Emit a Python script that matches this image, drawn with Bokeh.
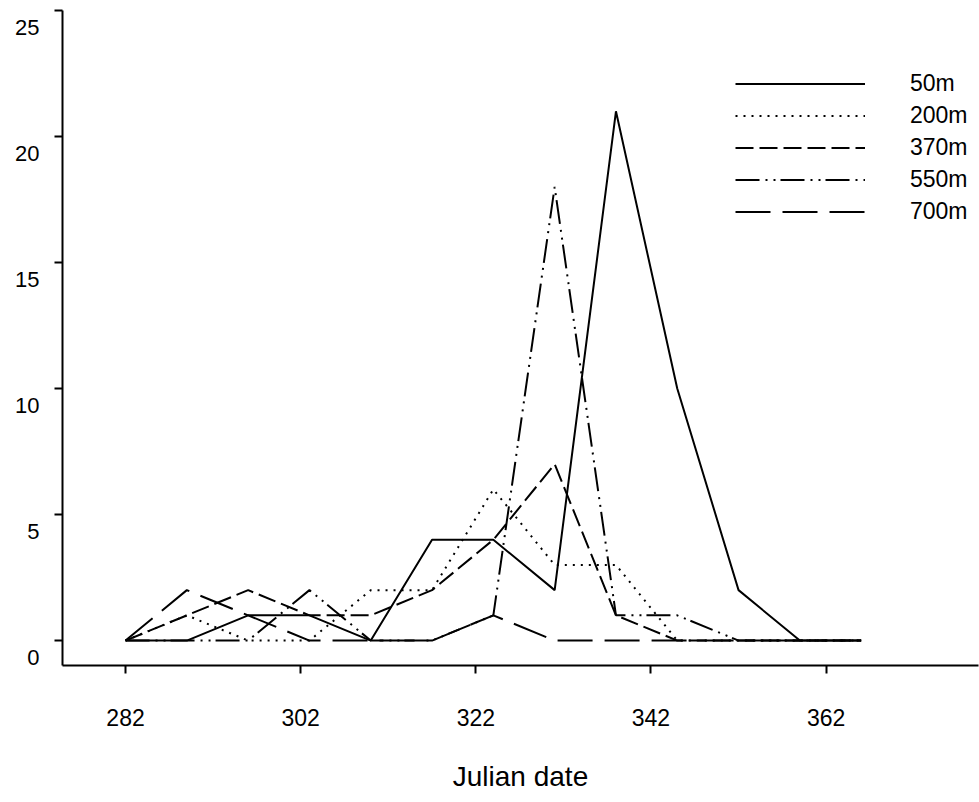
from bokeh.plotting import figure
from bokeh.models import Range1d, FixedTicker, Legend, LegendItem, LinearAxis
from bokeh.embed import file_html
from bokeh.resources import INLINE

# ---- data ----
dates = [282, 289, 296, 303, 310, 317, 324, 331, 338, 345, 352, 359, 366]
d50 = [0, 0, 1, 1, 0, 4, 4, 2, 21, 10, 2, 0, 0]
d200 = [0, 1, 0, 0, 2, 2, 6, 3, 3, 0, 0, 0, 0]
d370 = [0, 1, 2, 1, 1, 2, 4, 7, 1, 0, 0, 0, 0]
d550 = [0, 0, 0, 2, 0, 0, 1, 18, 1, 1, 0, 0, 0]
d700 = [0, 2, 1, 0, 0, 0, 1, 0, 0, 0, 0, 0, 0]
series_names = ["50m", "200m", "370m", "550m", "700m"]
x_ticks = [282, 302, 322, 342, 362]
y_ticks = [0, 5, 10, 15, 20, 25]
x_title = "Julian date"

FONT = "Liberation Sans"
Y0, Y1 = -0.99, 25
LABEL_SHIFT = 0.675  # y tick labels sit a little below their ticks, as in the reference

p = figure(width=979, height=802, output_backend="svg", toolbar_location=None,
           x_range=Range1d(274.8, 379.4), y_range=Range1d(Y0, Y1),
           min_border_left=62, min_border_right=1, min_border_top=10,
           min_border_bottom=137)
p.outline_line_color = None
p.xgrid.visible = False
p.ygrid.visible = False
p.background_fill_color = "white"
p.border_fill_color = "white"

styles = [
    dict(line_dash="solid"),
    dict(line_dash="2 6"),
    dict(line_dash="18 6"),
    dict(line_dash="24 6 2 6 2 5"),
    dict(line_dash="35 12"),
]
series = [d50, d200, d370, d550, d700]
renderers = []
for vals, st in zip(series, styles):
    r = p.line(dates, vals, line_color="black", line_width=2, **st)
    renderers.append(r)

# x axis
xa = p.xaxis[0]
xa.ticker = FixedTicker(ticks=x_ticks)
xa.minor_tick_line_color = None
xa.major_tick_in = 0
xa.major_tick_out = 8
xa.major_tick_line_width = 2
xa.axis_line_width = 2
xa.axis_line_color = "black"
xa.major_tick_line_color = "black"
xa.major_label_text_font = FONT
xa.major_label_text_font_size = "23px"
xa.major_label_text_color = "black"
xa.major_label_standoff = 35
xa.axis_label = x_title
xa.axis_label_text_font = FONT
xa.axis_label_text_font_size = "28px"
xa.axis_label_text_font_style = "normal"
xa.axis_label_text_color = "black"
xa.axis_label_standoff = 32

# main y axis: line and tick marks only (tick marks drawn as "minor" ticks, so no labels)
ya = p.yaxis[0]
ya.ticker = FixedTicker(ticks=[], minor_ticks=y_ticks)
ya.axis_line_width = 2
ya.axis_line_color = "black"
ya.minor_tick_in = 0
ya.minor_tick_out = 8
ya.minor_tick_line_width = 2
ya.minor_tick_line_color = "black"
ya.major_label_standoff = 0

# label-only y axis, shifted slightly downward
p.extra_y_ranges = {"lbl": Range1d(Y0 + LABEL_SHIFT, Y1 + LABEL_SHIFT)}
lbl_axis = LinearAxis(y_range_name="lbl", ticker=FixedTicker(ticks=y_ticks),
                      axis_line_color=None, major_tick_line_color=None,
                      minor_tick_line_color=None, major_tick_in=0, major_tick_out=0,
                      major_label_text_font=FONT, major_label_text_font_size="22px",
                      major_label_text_color="black", major_label_standoff=15)
p.add_layout(lbl_axis, "left")

legend = Legend(
    items=[LegendItem(label=n, renderers=[r]) for n, r in zip(series_names, renderers)],
    location=(673, 440),
    glyph_width=130, glyph_height=27, label_height=27,
    label_standoff=45, spacing=5, padding=0, margin=0,
    border_line_color=None, background_fill_alpha=0,
    label_text_font=FONT, label_text_font_size="23px", label_text_color="black",
)
p.add_layout(legend)

open("out.html", "w").write(file_html(p, INLINE))
